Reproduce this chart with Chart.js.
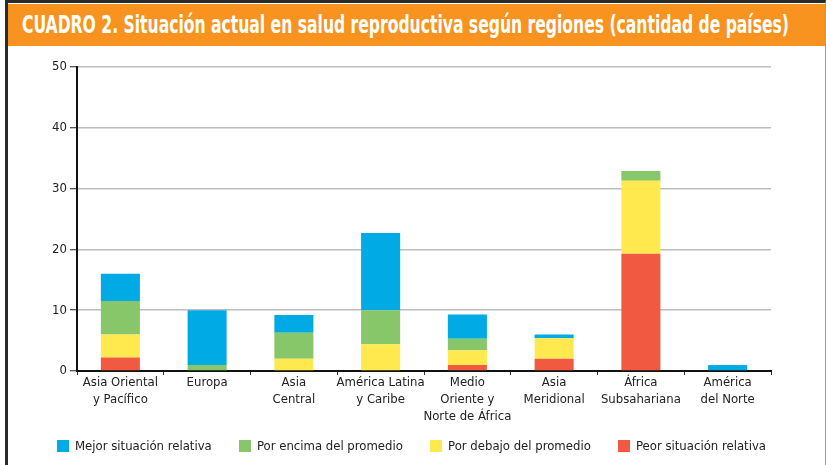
<!DOCTYPE html>
<html>
<head>
<meta charset="utf-8">
<script src="https://cdn.jsdelivr.net/npm/chart.js@4"></script>
<style>
  html, body { margin: 0; padding: 0; background: #fff; overflow: hidden; }
  #card {
    position: absolute; left: 5px; top: 0; width: 817px; height: 468px;
    border-left: 3px solid #2a2a2a; border-top: 3px solid #2a2a2a; border-right: 1px solid #9a9a9a;
  }
  #header {
    position: absolute; left: 0; top: 1px; width: 817px; height: 42px;
    background: #f7931e; color: #fff; overflow: hidden;
  }
  #title {
    position: absolute; left: 14px; top: 7px; white-space: nowrap;
    font-family: 'Liberation Sans Narrow', 'DejaVu Sans Condensed', 'Roboto', sans-serif;
    font-weight: bold; font-size: 24px; transform-origin: 0 0;
  }
  #wrap { position: absolute; left: 0; top: 43px; width: 816px; height: 419px; }
  #legend {
    position: absolute; left: 49px; width: 709px; top: 435px;
    display: flex; justify-content: space-between; align-items: center;
    font-family: 'Liberation Sans Narrow', 'DejaVu Sans Condensed', 'Roboto', sans-serif;
    font-size: 13px; color: #222; white-space: nowrap;
  }
  #legend .item { display: flex; align-items: center; }
  #legend .box { width: 12px; height: 12px; margin-right: 6px; }
</style>
</head>
<body>
<div id="card">
  <div id="header"><span id="title">CUADRO 2. Situación actual en salud reproductiva según regiones (cantidad de países)</span></div>
  <div id="wrap"><canvas id="chart"></canvas></div>
  <div id="legend"></div>
</div>
<script>
// Regions (multi-line labels)
const regions = [
    ['Asia Oriental', 'y Pacífico'],
    ['Europa'],
    ['Asia', 'Central'],
    ['América Latina', 'y Caribe'],
    ['Medio', 'Oriente y', 'Norte de África'],
    ['Asia', 'Meridional'],
    ['África', 'Subsahariana'],
    ['América', 'del Norte']
];

// Number of countries per category
const peor     = [2.2, 0, 0,   0,    1,   2,   19.3, 0];
const debajo   = [3.8, 0, 2,   4.4,  2.4, 3.4, 12,   0];
const encima   = [5.5, 1, 4.3, 5.6,  1.9, 0,   1.6,  0];
const mejor    = [4.5, 9, 2.9, 12.7, 4,   0.6, 0,    1];

const yTicks = [0, 10, 20, 30, 40, 50];

const fontFamily = "'Liberation Sans Narrow', 'DejaVu Sans Condensed', 'Roboto', sans-serif";

// Fit title to the header width
const title = document.getElementById('title');
const targetWidth = 767;
title.style.transform = 'scaleX(' + (targetWidth / title.getBoundingClientRect().width) + ')';

const ctx = document.getElementById('chart');

const chart = new Chart(ctx, {
    type: 'bar',
    data: {
        labels: regions,
        datasets: [
            { label: 'Peor situación relativa', data: peor, backgroundColor: '#f15a40' },
            { label: 'Por debajo del promedio', data: debajo, backgroundColor: '#ffe94f' },
            { label: 'Por encima del promedio', data: encima, backgroundColor: '#88c66a' },
            { label: 'Mejor situación relativa', data: mejor, backgroundColor: '#00aae4' }
        ]
    },
    options: {
        responsive: true,
        maintainAspectRatio: false,
        animation: false,
        barPercentage: 0.45,
        categoryPercentage: 1,
        layout: {
            padding: { top: 21, right: 53, bottom: 0, left: 0 }
        },
        plugins: {
            tooltip: { enabled: false },
            legend: { display: false }
        },
        scales: {
            x: {
                stacked: true,
                grid: {
                    drawOnChartArea: false,
                    drawTicks: true,
                    tickLength: 4,
                    tickColor: '#333',
                    offset: true
                },
                border: { color: '#111', width: 2 },
                ticks: {
                    color: '#222',
                    maxRotation: 0,
                    autoSkip: false,
                    padding: -1,
                    font: { family: fontFamily, size: 13, lineHeight: '17px' }
                },
                afterFit: function(scale) { scale.height = 94; }
            },
            y: {
                stacked: true,
                min: 0,
                max: 50,
                afterBuildTicks: function(scale) {
                    scale.ticks = yTicks.map(v => ({ value: v }));
                },
                grid: {
                    color: '#bdbdbd',
                    lineWidth: 1.5,
                    tickColor: '#222',
                    tickLength: 7,
                    tickWidth: 1
                },
                border: { color: '#111', width: 2 },
                ticks: {
                    color: '#222',
                    padding: 3,
                    font: { family: fontFamily, size: 13 }
                },
                afterFit: function(scale) { scale.width = 69; }
            }
        }
    }
});

// Legend in HTML, top-down order of the stack
const legend = document.getElementById('legend');
chart.data.datasets.slice().reverse().forEach(ds => {
    const item = document.createElement('span');
    item.className = 'item';
    const box = document.createElement('span');
    box.className = 'box';
    box.style.background = ds.backgroundColor;
    item.appendChild(box);
    item.appendChild(document.createTextNode(ds.label));
    legend.appendChild(item);
});
</script>
</body>
</html>
